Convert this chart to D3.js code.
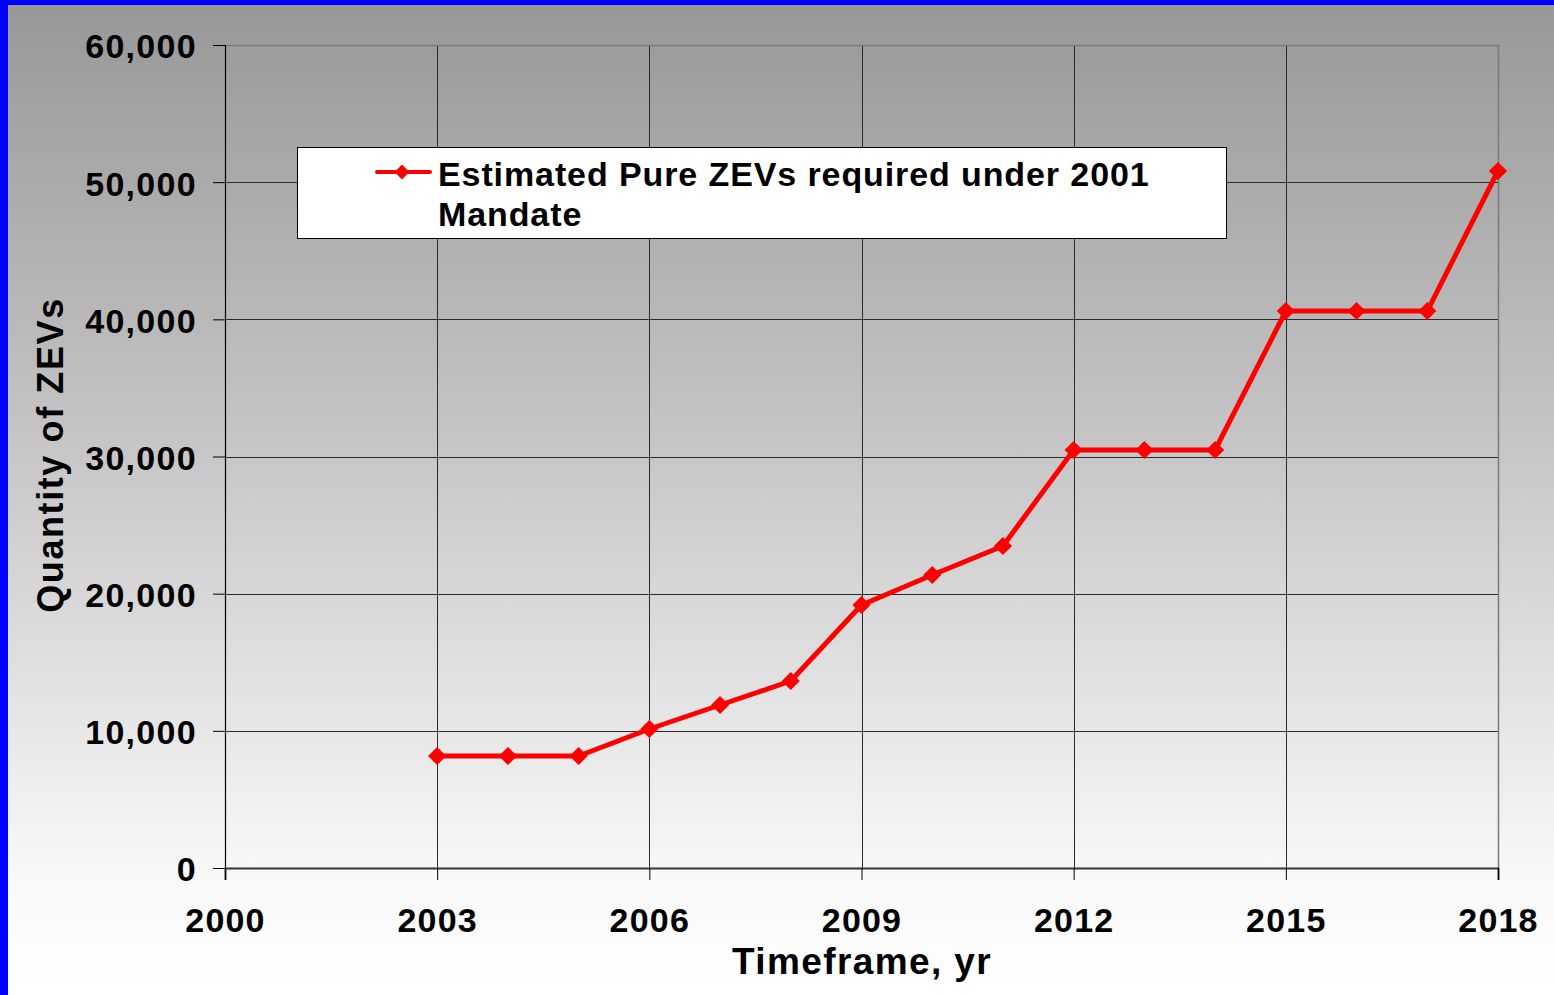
<!DOCTYPE html>
<html>
<head>
<meta charset="utf-8">
<script src="https://cdn.jsdelivr.net/npm/d3@7"></script>
<style>
  html, body { margin: 0; padding: 0; background: #fff; }
  svg { display: block; font-family: "Liberation Sans", Arial, sans-serif; font-weight: bold; }
</style>
</head>
<body>
<svg id="chart" width="1554" height="995"></svg>
<script>
// data
const years = [2003, 2004, 2005, 2006, 2007, 2008, 2009, 2010, 2011, 2012, 2013, 2014, 2015, 2016, 2017, 2018];
const zevs = [8165, 8165, 8165, 10134, 11883, 13633, 19174, 21361, 23475, 30474, 30474, 30474, 40607, 40607, 40607, 50814];
const xTicks = [2000, 2003, 2006, 2009, 2012, 2015, 2018];
const yTicks = [0, 10000, 20000, 30000, 40000, 50000, 60000];
const seriesName = ["Estimated Pure ZEVs required under 2001", "Mandate"];

var svg = d3.select("#chart"),
    width = +svg.attr("width"),
    height = +svg.attr("height");

const plotLeft = 225, plotRight = 1498, plotTop = 45, plotBottom = 868;

// background gradient
const defs = svg.append("defs");
const grad = defs.append("linearGradient")
    .attr("id", "bg")
    .attr("x1", 0).attr("y1", 0).attr("x2", 0).attr("y2", 1);
grad.append("stop").attr("offset", "0%").attr("stop-color", "#979797");
grad.append("stop").attr("offset", "45%").attr("stop-color", "#c6c6c6");
grad.append("stop").attr("offset", "88%").attr("stop-color", "#f8f8f8");
grad.append("stop").attr("offset", "100%").attr("stop-color", "#ffffff");

svg.append("rect")
    .attr("width", width).attr("height", height)
    .attr("fill", "url(#bg)");

// blue frame on left and top
svg.append("rect").attr("x", 0).attr("y", 0).attr("width", 8).attr("height", height).attr("fill", "#0000ff");
svg.append("rect").attr("x", 0).attr("y", 0).attr("width", width).attr("height", 5).attr("fill", "#0000ff");

var x = d3.scaleLinear().domain([2000, 2018]).range([plotLeft, plotRight]);
var y = d3.scaleLinear().domain([0, 60000]).range([plotBottom, plotTop]);

// gridlines
svg.append("g")
    .selectAll("line")
    .data(yTicks.filter(d => d > 0 && d < 60000))
    .enter().append("line")
    .attr("x1", plotLeft).attr("x2", plotRight)
    .attr("y1", d => Math.round(y(d)) + 0.5).attr("y2", d => Math.round(y(d)) + 0.5)
    .attr("stroke", "#2a2a2a").attr("stroke-width", 1);
svg.append("g")
    .selectAll("line")
    .data(xTicks.filter(d => d > 2000 && d < 2018))
    .enter().append("line")
    .attr("x1", d => Math.round(x(d)) + 0.5).attr("x2", d => Math.round(x(d)) + 0.5)
    .attr("y1", plotTop).attr("y2", plotBottom)
    .attr("stroke", "#2a2a2a").attr("stroke-width", 1);

// plot border (top and right, gray)
svg.append("path")
    .attr("d", "M" + plotLeft + "," + (plotTop + 0.5) + "H" + (plotRight + 0.5) + "V" + plotBottom)
    .attr("fill", "none")
    .attr("stroke", "#7a7a7a").attr("stroke-width", 1.5);

// y axis
var yAxis = d3.axisLeft(y)
    .tickValues(yTicks)
    .tickSize(12)
    .tickPadding(16)
    .tickFormat(d3.format(","));
var gy = svg.append("g")
    .attr("transform", "translate(" + plotLeft + ",0)")
    .call(yAxis);
gy.select(".domain").attr("stroke", "#000").attr("stroke-width", 1.2);
gy.selectAll(".tick line").attr("stroke", "#000");
gy.selectAll(".tick text")
    .attr("fill", "#000")
    .attr("dy", "0.38em")
    .style("font-size", "34px")
    .style("letter-spacing", "1.3px");

// x axis
var xAxis = d3.axisBottom(x)
    .tickValues(xTicks)
    .tickSize(12)
    .tickFormat(d3.format("d"));
var gx = svg.append("g")
    .attr("transform", "translate(0," + plotBottom + ")")
    .call(xAxis);
gx.select(".domain").attr("stroke", "#333").attr("stroke-width", 2);
gx.selectAll(".tick line").attr("stroke", "#000");
gx.selectAll(".tick text")
    .attr("fill", "#000")
    .attr("y", 64)
    .attr("dy", 0)
    .style("font-size", "34px")
    .style("letter-spacing", "1.2px");

// axis titles
svg.append("text")
    .attr("x", 862).attr("y", 974)
    .attr("text-anchor", "middle")
    .style("font-size", "37px")
    .style("letter-spacing", "1.4px")
    .text("Timeframe, yr");
svg.append("text")
    .attr("transform", "translate(63,455) rotate(-90)")
    .attr("text-anchor", "middle")
    .style("font-size", "36px")
    .style("letter-spacing", "1.6px")
    .text("Quantity of ZEVs");

// the series
var line = d3.line()
    .x((d, i) => x(years[i]))
    .y(d => y(d));
svg.append("path")
    .datum(zevs)
    .attr("d", line)
    .attr("fill", "none")
    .attr("stroke", "#ff0000")
    .attr("stroke-width", 5)
    .attr("stroke-linejoin", "round");

var diamond = d3.symbol().type(d3.symbolSquare).size(165);
svg.append("g")
    .selectAll("path")
    .data(zevs)
    .enter().append("path")
    .attr("d", diamond)
    .attr("transform", (d, i) => "translate(" + x(years[i]) + "," + y(d) + ") rotate(45)")
    .attr("fill", "#ff0000");

// legend
var lg = svg.append("g").attr("class", "legend");
lg.append("rect")
    .attr("x", 297.5).attr("y", 147.5)
    .attr("width", 929).attr("height", 91)
    .attr("fill", "#fff")
    .attr("stroke", "#000").attr("stroke-width", 1);
lg.append("line")
    .attr("x1", 377).attr("x2", 430)
    .attr("y1", 172).attr("y2", 172)
    .attr("stroke", "#ff0000").attr("stroke-width", 4)
    .attr("stroke-linecap", "round");
lg.append("path")
    .attr("d", d3.symbol().type(d3.symbolSquare).size(110))
    .attr("transform", "translate(402,172) rotate(45)")
    .attr("fill", "#ff0000");
lg.selectAll("text")
    .data(seriesName)
    .enter().append("text")
    .attr("x", 438)
    .attr("y", (d, i) => 186 + i * 40)
    .style("font-size", "34px")
    .style("letter-spacing", "0.9px")
    .text(d => d);
</script>
</body>
</html>
